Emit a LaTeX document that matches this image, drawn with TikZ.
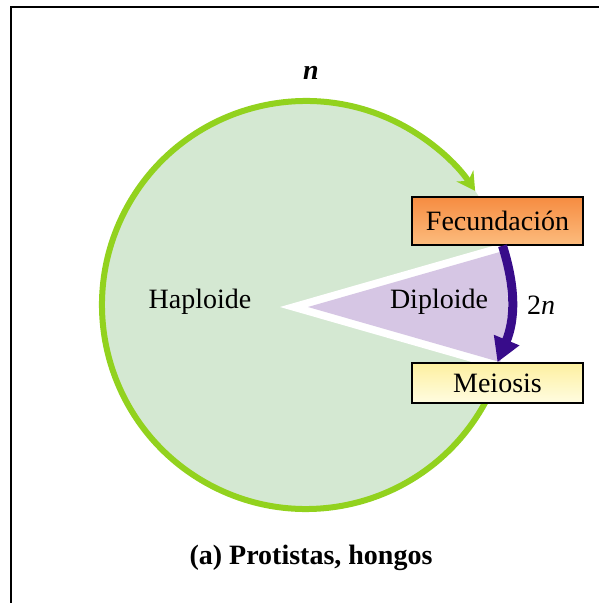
\documentclass[tikz,border=0pt]{standalone}
\usepackage{fontspec}
\setmainfont{Liberation Serif}
\usepackage{xcolor}
\usepackage{tikz}
\usetikzlibrary{arrows.meta, positioning, shapes}

\definecolor{haploGreen}{RGB}{212,232,210}
\definecolor{ringGreen}{RGB}{146,210,30}
\definecolor{diploPurple}{RGB}{214,198,228}
\definecolor{arrowIndigo}{RGB}{56,12,138}
\definecolor{fecTop}{RGB}{246,140,65}
\definecolor{fecBottom}{RGB}{252,188,126}
\definecolor{meiTop}{RGB}{253,240,160}
\definecolor{meiBottom}{RGB}{255,252,225}

\begin{document}
\begin{tikzpicture}[x=1pt, y=1pt, font=\fontsize{28}{33}\selectfont,
		stage/.style={draw, line width=1.5pt, rectangle, minimum width=171pt, inner sep=0pt, node distance= {162pt}},
		ring/.style={ringGreen, line width=6pt, -{Stealth[length=18pt, width=20pt]}},
		turn/.style={arrowIndigo, line width=9pt, -{Triangle[length=24pt, width=26pt]}}
		]
		\useasboundingbox (0,0) rectangle (599,603);
		\draw[line width=2pt] (11,0) -- (11,596) -- (599,596);
		
		\coordinate (c) at (306,298);
		\coordinate (tipw) at (280,296);
		\coordinate (tipd) at (308,296);
		
		\fill[haploGreen] (c) circle (204);
		\fill[white] (tipw) -- +(16:235) arc[start angle=16, end angle=-16, radius=235] -- cycle;
		\fill[diploPurple] (tipd) -- +(16:200) arc[start angle=16, end angle=-16, radius=200] -- cycle;
		\draw[ring] (c) ++(-28:204) arc[start angle=-28, end angle=-326, radius=204];
		
		\node [stage, top color=fecTop, bottom color=fecBottom, minimum height=48pt](fec) at (497.5,382) {Fecundación};
		\node [stage, top color=meiTop, bottom color=meiBottom, minimum height=40pt](mei) [below of=fec] {Meiosis};
		
		\node (hap) at (200,301) {Haploide};
		\node (dip) at (439,301) {Diploide};
		\node (two) at (541,298) {2\textit{n}};
		\node (hn) at (311,530) {\textbf{\textit{n}}};
		\node (cap) at (311,45) {\textbf{(a) Protistas, hongos}};
		
		\draw[turn] ([xshift=5pt]fec.south) to[bend left=20] (mei.north);
		
	\end{tikzpicture}
\end{document}
